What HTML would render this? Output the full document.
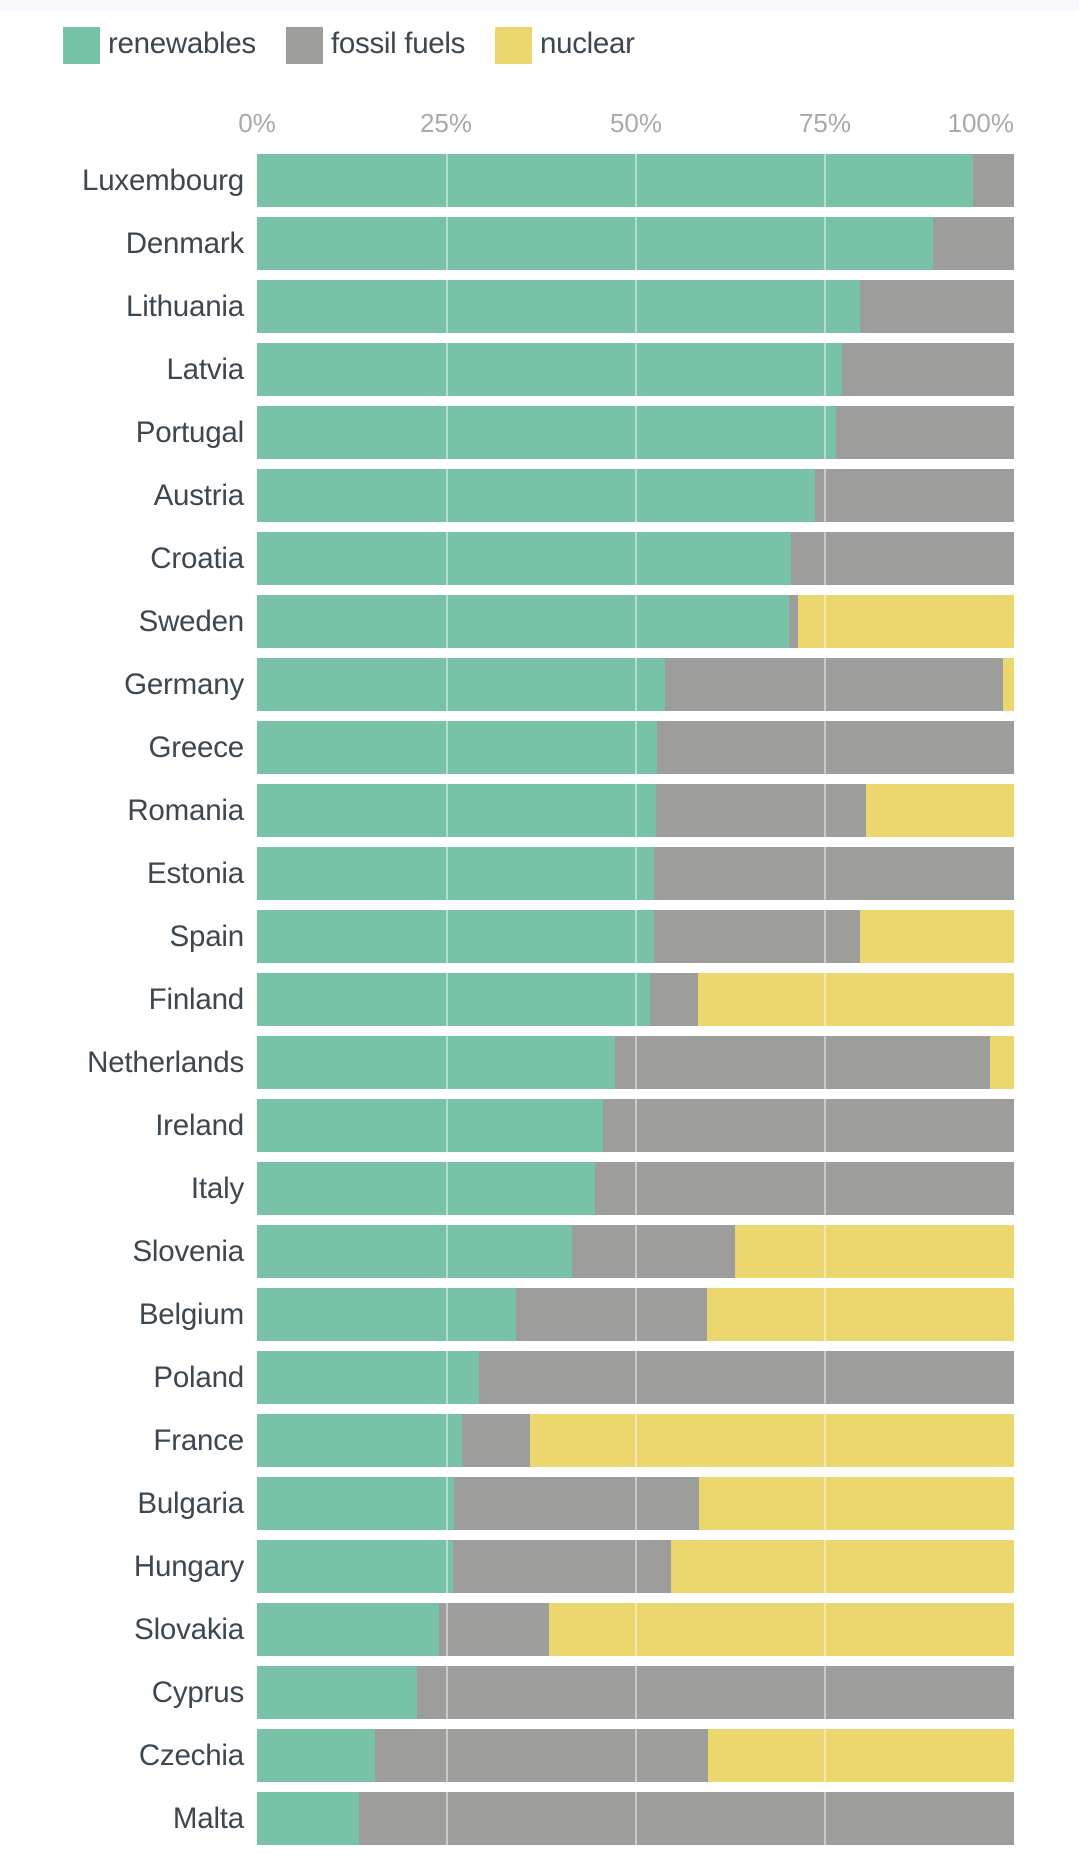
<!DOCTYPE html>
<html><head><meta charset="utf-8"><style>
*{margin:0;padding:0;box-sizing:border-box}
body{width:1079px;height:1872px;background:#fff;position:relative;overflow:hidden;font-family:"Liberation Sans",sans-serif}
.top{position:absolute;left:0;top:0;width:1079px;height:11px;background:#f8f8fd}
.lg{position:absolute;top:27px;width:37px;height:37px}
.lt{position:absolute;top:24px;font-size:29.5px;color:#3d4750;line-height:40px;letter-spacing:-0.3px}
.tk{position:absolute;top:108px;font-size:26px;color:#a9a9a9;width:80px;text-align:center;line-height:30px}
.row{position:absolute;left:0;width:1079px;height:53px}
.lab{position:absolute;left:0;width:244px;text-align:right;font-size:29.5px;color:#3d4750;line-height:53px;letter-spacing:-0.2px}
.bar{position:absolute;left:257px;width:757px;height:53px;background:#9d9d9b}
.g{position:absolute;left:0;top:0;height:53px;background:#78c3a8}
.n{position:absolute;right:0;top:0;height:53px;background:#ecd66e}
.grid{position:absolute;top:154px;height:1691px;width:2px;background:rgba(255,255,255,0.45)}
</style></head><body>
<div class="top"></div>
<div class="lg" style="left:63px;background:#78c3a8"></div><div class="lt" style="left:108px">renewables</div>
<div class="lg" style="left:286px;background:#9d9d9b"></div><div class="lt" style="left:331px">fossil fuels</div>
<div class="lg" style="left:495px;background:#ecd66e"></div><div class="lt" style="left:540px">nuclear</div>
<div class="tk" style="left:217px">0%</div>
<div class="tk" style="left:406px">25%</div>
<div class="tk" style="left:596px">50%</div>
<div class="tk" style="left:785px">75%</div>
<div class="tk" style="left:934px;text-align:right">100%</div>

<div class="row" style="top:154px"><div class="lab">Luxembourg</div><div class="bar"><div class="g" style="width:94.6%"></div></div></div>
<div class="row" style="top:217px"><div class="lab">Denmark</div><div class="bar"><div class="g" style="width:89.3%"></div></div></div>
<div class="row" style="top:280px"><div class="lab">Lithuania</div><div class="bar"><div class="g" style="width:79.7%"></div></div></div>
<div class="row" style="top:343px"><div class="lab">Latvia</div><div class="bar"><div class="g" style="width:77.3%"></div></div></div>
<div class="row" style="top:406px"><div class="lab">Portugal</div><div class="bar"><div class="g" style="width:76.5%"></div></div></div>
<div class="row" style="top:469px"><div class="lab">Austria</div><div class="bar"><div class="g" style="width:73.7%"></div></div></div>
<div class="row" style="top:532px"><div class="lab">Croatia</div><div class="bar"><div class="g" style="width:70.5%"></div></div></div>
<div class="row" style="top:595px"><div class="lab">Sweden</div><div class="bar"><div class="g" style="width:70.3%"></div><div class="n" style="width:28.5%"></div></div></div>
<div class="row" style="top:658px"><div class="lab">Germany</div><div class="bar"><div class="g" style="width:53.9%"></div><div class="n" style="width:1.4%"></div></div></div>
<div class="row" style="top:721px"><div class="lab">Greece</div><div class="bar"><div class="g" style="width:52.8%"></div></div></div>
<div class="row" style="top:784px"><div class="lab">Romania</div><div class="bar"><div class="g" style="width:52.7%"></div><div class="n" style="width:19.6%"></div></div></div>
<div class="row" style="top:847px"><div class="lab">Estonia</div><div class="bar"><div class="g" style="width:52.5%"></div></div></div>
<div class="row" style="top:910px"><div class="lab">Spain</div><div class="bar"><div class="g" style="width:52.4%"></div><div class="n" style="width:20.3%"></div></div></div>
<div class="row" style="top:973px"><div class="lab">Finland</div><div class="bar"><div class="g" style="width:51.9%"></div><div class="n" style="width:41.8%"></div></div></div>
<div class="row" style="top:1036px"><div class="lab">Netherlands</div><div class="bar"><div class="g" style="width:47.3%"></div><div class="n" style="width:3.2%"></div></div></div>
<div class="row" style="top:1099px"><div class="lab">Ireland</div><div class="bar"><div class="g" style="width:45.7%"></div></div></div>
<div class="row" style="top:1162px"><div class="lab">Italy</div><div class="bar"><div class="g" style="width:44.6%"></div></div></div>
<div class="row" style="top:1225px"><div class="lab">Slovenia</div><div class="bar"><div class="g" style="width:41.6%"></div><div class="n" style="width:36.8%"></div></div></div>
<div class="row" style="top:1288px"><div class="lab">Belgium</div><div class="bar"><div class="g" style="width:34.2%"></div><div class="n" style="width:40.5%"></div></div></div>
<div class="row" style="top:1351px"><div class="lab">Poland</div><div class="bar"><div class="g" style="width:29.3%"></div></div></div>
<div class="row" style="top:1414px"><div class="lab">France</div><div class="bar"><div class="g" style="width:27.1%"></div><div class="n" style="width:64%"></div></div></div>
<div class="row" style="top:1477px"><div class="lab">Bulgaria</div><div class="bar"><div class="g" style="width:26%"></div><div class="n" style="width:41.6%"></div></div></div>
<div class="row" style="top:1540px"><div class="lab">Hungary</div><div class="bar"><div class="g" style="width:25.9%"></div><div class="n" style="width:45.3%"></div></div></div>
<div class="row" style="top:1603px"><div class="lab">Slovakia</div><div class="bar"><div class="g" style="width:24.1%"></div><div class="n" style="width:61.4%"></div></div></div>
<div class="row" style="top:1666px"><div class="lab">Cyprus</div><div class="bar"><div class="g" style="width:21.1%"></div></div></div>
<div class="row" style="top:1729px"><div class="lab">Czechia</div><div class="bar"><div class="g" style="width:15.6%"></div><div class="n" style="width:40.4%"></div></div></div>
<div class="row" style="top:1792px"><div class="lab">Malta</div><div class="bar"><div class="g" style="width:13.5%"></div></div></div>

<div class="grid" style="left:446px"></div>
<div class="grid" style="left:635px"></div>
<div class="grid" style="left:824px"></div>
</body></html>
